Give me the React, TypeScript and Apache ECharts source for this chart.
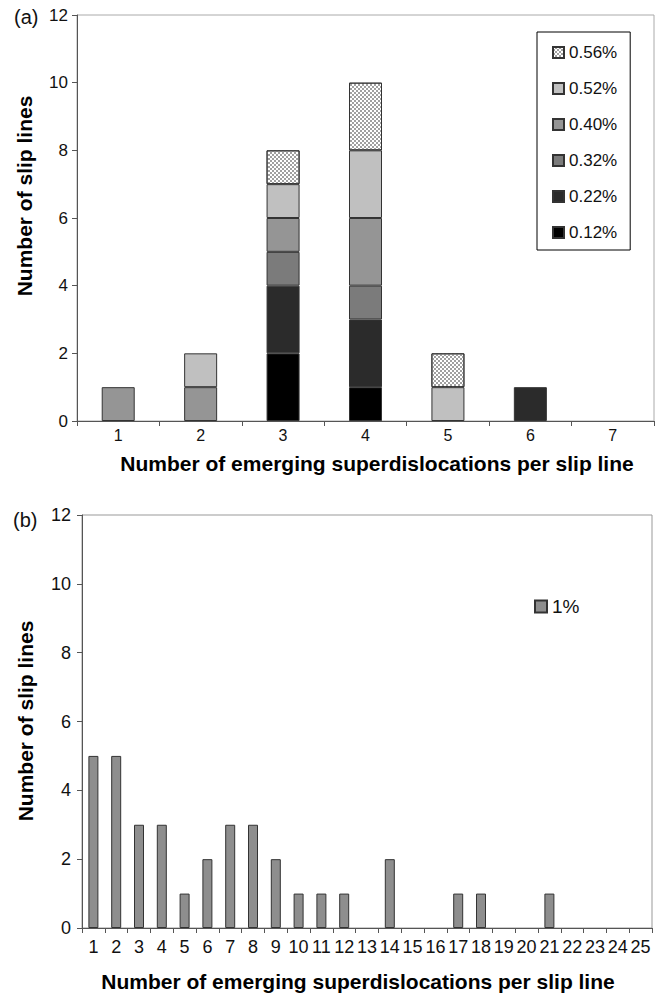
import React, { useEffect, useRef } from "react";
import * as echarts from "echarts";

const FONT = "Liberation Sans, Arial, sans-serif";

// Panel (a): stacked counts per strain level
const categoriesA = ["1", "2", "3", "4", "5", "6", "7"];
const strainLabels = ["0.12%", "0.22%", "0.32%", "0.40%", "0.52%", "0.56%"];
const s012 = [0, 0, 2, 1, 0, 0, 0];
const s022 = [0, 0, 2, 2, 0, 1, 0];
const s032 = [0, 0, 1, 1, 0, 0, 0];
const s040 = [1, 1, 1, 2, 0, 0, 0];
const s052 = [0, 1, 1, 2, 1, 0, 0];
const s056 = [0, 0, 1, 2, 1, 0, 0];
const strainColors = ["#000000", "#2b2b2b", "#7b7b7b", "#959595", "#c0c0c0", "#ffffff"];

// Panel (b): 1% strain
const categoriesB = [
  "1", "2", "3", "4", "5", "6", "7", "8", "9", "10", "11", "12", "13",
  "14", "15", "16", "17", "18", "19", "20", "21", "22", "23", "24", "25",
];
const s1 = [5, 5, 3, 3, 1, 2, 3, 3, 2, 1, 1, 1, 0, 2, 0, 0, 1, 1, 0, 0, 1, 0, 0, 0, 0];

const yTicks = { min: 0, max: 12, interval: 2 };

const xTitle = "Number of emerging superdislocations per slip line";
const yTitle = "Number of slip lines";

const noZero = (arr: number[]) => arr.map((v) => (v === 0 ? "-" : v));

export default function App() {
  const ref = useRef<HTMLDivElement>(null);
  useEffect(() => {
    if (!ref.current) return;
    const chart = echarts.init(ref.current, undefined, { renderer: "svg" });
    const seriesA = [s012, s022, s032, s040, s052, s056].map((d, i) => {
      const itemStyle: any = { color: strainColors[i], borderColor: "#333", borderWidth: 1 };
      if (i === 5) {
        itemStyle.decal = {
          symbol: "rect",
          symbolSize: 1,
          color: "#a0a0a0",
          dashArrayX: [[2, 2], [0, 2, 2, 0]],
          dashArrayY: [2, 0],
          rotation: 0,
        };
      }
      return {
        name: strainLabels[i],
        type: "bar",
        stack: "a",
        xAxisIndex: 0,
        yAxisIndex: 0,
        barWidth: 33,
        data: noZero(d),
        itemStyle,
      };
    });
    const axisLine = { show: true, lineStyle: { color: "#555", width: 1 } };
    const option: any = {
      animation: false,
      textStyle: { fontFamily: FONT },
      grid: [
        { left: 77, top: 15, width: 577, height: 406, show: true, borderColor: "#aaa", borderWidth: 1 },
        { left: 82, top: 515, width: 570, height: 413, show: true, borderColor: "#999", borderWidth: 1 },
      ],
      xAxis: [
        {
          gridIndex: 0,
          type: "category",
          data: categoriesA,
          axisLine,
          axisTick: { show: true, length: 5, lineStyle: { color: "#555" } },
          axisLabel: { fontSize: 16, color: "#111", margin: 6, fontFamily: FONT },
        },
        {
          gridIndex: 1,
          type: "category",
          data: categoriesB,
          axisLine,
          axisTick: { show: true, length: 5, lineStyle: { color: "#555" } },
          axisLabel: { fontSize: 18, color: "#111", margin: 10, interval: 0, hideOverlap: false, fontFamily: FONT },
        },
      ],
      yAxis: [
        {
          gridIndex: 0,
          type: "value",
          ...yTicks,
          axisLine,
          axisTick: { show: true, length: 5, lineStyle: { color: "#555" } },
          splitLine: { show: false },
          axisLabel: { fontSize: 17, color: "#111", margin: 9, fontFamily: FONT },
        },
        {
          gridIndex: 1,
          type: "value",
          ...yTicks,
          axisLine,
          axisTick: { show: true, length: 5, lineStyle: { color: "#555" } },
          splitLine: { show: false },
          axisLabel: { fontSize: 18, color: "#111", margin: 11, fontFamily: FONT },
        },
      ],
      legend: [
        {
          data: [...strainLabels].reverse(),
          orient: "vertical",
          left: 537,
          top: 32,
          padding: [12, 13, 9, 15],
          itemGap: 19,
          itemWidth: 11,
          itemHeight: 11,
          icon: "rect",
          borderColor: "#000",
          borderWidth: 1,
          selectedMode: false,
          textStyle: { fontSize: 17, color: "#111", fontFamily: FONT },
        },
        {
          data: ["1%"],
          left: 534,
          top: 597,
          padding: 0,
          itemWidth: 12,
          itemHeight: 12,
          icon: "rect",
          selectedMode: false,
          textStyle: { fontSize: 19, color: "#111", fontFamily: FONT },
        },
      ],
      series: [
        ...seriesA,
        {
          name: "1%",
          type: "bar",
          xAxisIndex: 1,
          yAxisIndex: 1,
          barWidth: 10,
          data: noZero(s1),
          itemStyle: { color: "#8e8e8e", borderColor: "#333", borderWidth: 1 },
        },
      ],
      graphic: [
        { type: "text", left: 14, top: 7, style: { text: "(a)", font: `20px ${FONT}`, fill: "#111" } },
        { type: "text", left: 13, top: 510, style: { text: "(b)", font: `20px ${FONT}`, fill: "#111" } },
        {
          type: "text", x: 377, y: 463,
          style: { text: xTitle, font: `bold 21px ${FONT}`, fill: "#000", align: "center", verticalAlign: "middle" },
        },
        {
          type: "text", x: 358, y: 981,
          style: { text: xTitle, font: `bold 21px ${FONT}`, fill: "#000", align: "center", verticalAlign: "middle" },
        },
        {
          type: "text", x: 24, y: 196, rotation: Math.PI / 2,
          style: { text: yTitle, font: `bold 21px ${FONT}`, fill: "#000", align: "center", verticalAlign: "middle" },
        },
        {
          type: "text", x: 25, y: 721, rotation: Math.PI / 2,
          style: { text: yTitle, font: `bold 21px ${FONT}`, fill: "#000", align: "center", verticalAlign: "middle" },
        },
      ],
    };
    chart.setOption(option);
    return () => chart.dispose();
  }, []);
  return <div ref={ref} style={{ position: "absolute", left: 0, top: 0, width: 660, height: 994 }} />;
}
